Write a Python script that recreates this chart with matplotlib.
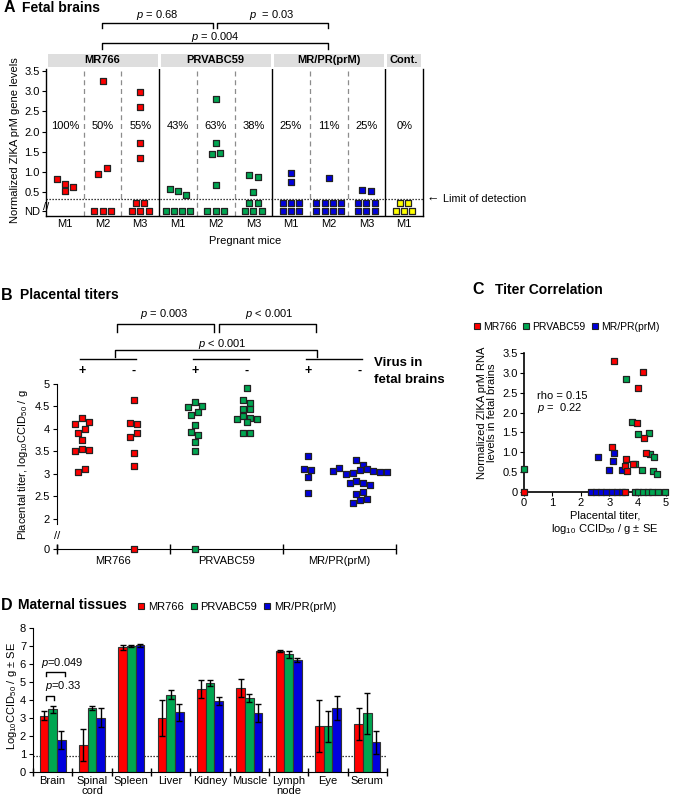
import math
import numpy as np
import matplotlib
matplotlib.use('Agg')
import matplotlib.pyplot as plt
from matplotlib.lines import Line2D
from matplotlib.patches import Rectangle
from matplotlib.transforms import blended_transform_factory

plt.rcParams['font.family'] = ['Liberation Sans', 'DejaVu Sans']
plt.rcParams['mathtext.fontset'] = 'custom'
plt.rcParams['mathtext.rm'] = 'Liberation Sans'
plt.rcParams['mathtext.it'] = 'Liberation Sans:italic'
plt.rcParams['mathtext.bf'] = 'Liberation Sans:bold'
plt.rcParams['font.size'] = 8

# ---------------- data ----------------
virus_names = ['MR766', 'PRVABC59', 'MR/PR(prM)']

# Panel A: fetal brains
a_groups = ['MR766', 'PRVABC59', 'MR/PR(prM)', 'Cont.']
a_col_group = [0, 0, 0, 1, 1, 1, 2, 2, 2, 3]
a_mice = ['M1', 'M2', 'M3', 'M1', 'M2', 'M3', 'M1', 'M2', 'M3', 'M1']
a_percent = ['100%', '50%', '55%', '43%', '63%', '38%', '25%', '11%', '25%', '0%']
a_values = [
    [0.82, 0.70, 0.64, 0.52],
    [3.25, 0.96, 1.10],
    [2.98, 2.61, 1.71, 1.35],
    [0.57, 0.53, 0.44],
    [2.81, 1.73, 1.45, 1.47, 0.68],
    [0.93, 0.88, 0.50],
    [0.97, 0.76],
    [0.85],
    [0.55, 0.54],
    [],
]
a_nd_counts = [0, 3, 5, 4, 3, 5, 6, 8, 6, 5]
a_yticks = [0.5, 1.0, 1.5, 2.0, 2.5, 3.0, 3.5]

# Panel B: placental titers (virus in fetal brains + / -)
b_groups = ['MR766', 'PRVABC59', 'MR/PR(prM)']
b_pos = {
    'MR766': [4.11, 4.235, 4.15, 3.90, 3.99, 3.76, 3.51, 3.55, 3.53, 3.04, 3.11],
    'PRVABC59': [4.49, 4.59, 4.52, 4.32, 4.37, 4.09, 3.94, 3.86, 3.72, 3.52, 0.0],
    'MR/PR(prM)': [3.39, 3.10, 3.08, 2.94, 2.57],
}
b_neg = {
    'MR766': [4.64, 4.13, 4.11, 3.83, 3.92, 3.46, 3.18, 0.0],
    'PRVABC59': [4.90, 4.64, 4.58, 4.44, 4.44, 4.21, 4.29, 4.25, 4.21, 4.15, 3.90, 3.92],
    'MR/PR(prM)': [3.32, 3.06, 3.14, 3.20, 3.01, 3.02, 3.08, 3.11, 3.06, 3.04, 3.04,
                   2.79, 2.84, 2.79, 2.76, 2.55, 2.61, 2.36, 2.42, 2.44],
}
b_yticks = [2, 2.5, 3, 3.5, 4, 4.5, 5]

# Panel C: titer correlation (placental titer, brain RNA)
c_red_x = [3.17, 4.19, 4.03, 3.97, 4.23, 3.09, 4.30, 3.60, 3.56, 3.62, 3.83, 0.0, 3.54]
c_red_y = [3.30, 3.01, 2.63, 1.73, 1.37, 1.13, 0.99, 0.83, 0.66, 0.53, 0.71, 0.0, 0.0]
c_green_x = [0.0, 3.60, 3.80, 4.00, 4.39, 4.42, 4.59, 3.92, 4.15, 4.54, 4.68,
             3.90, 4.00, 4.19, 4.35, 4.51, 4.71, 4.98]
c_green_y = [0.59, 2.85, 1.76, 1.47, 1.49, 0.95, 0.89, 0.71, 0.56, 0.52, 0.46,
             0.0, 0.0, 0.0, 0.0, 0.0, 0.0, 0.0]
c_blue_x = [2.62, 3.16, 3.15, 3.00, 3.44, 2.36, 2.54, 2.70, 2.89, 3.09, 3.27, 3.44]
c_blue_y = [0.88, 0.99, 0.78, 0.56, 0.55, 0.0, 0.0, 0.0, 0.0, 0.0, 0.0, 0.0]

# Panel D: maternal tissues
tissues = ['Brain', 'Spinal\ncord', 'Spleen', 'Liver', 'Kidney', 'Muscle', 'Lymph\nnode', 'Eye', 'Serum']
d_mr766 = [3.12, 1.50, 6.92, 3.02, 4.63, 4.67, 6.70, 2.57, 2.67]
d_mr766_se = [0.25, 0.87, 0.16, 1.00, 0.50, 0.50, 0.06, 1.45, 0.88]
d_prv = [3.48, 3.57, 7.02, 4.30, 4.94, 4.13, 6.54, 2.53, 3.26]
d_prv_se = [0.20, 0.10, 0.05, 0.24, 0.18, 0.22, 0.20, 0.85, 1.13]
d_mrpr = [1.80, 3.02, 7.04, 3.33, 3.94, 3.30, 6.22, 3.55, 1.65]
d_mrpr_se = [0.50, 0.53, 0.08, 0.47, 0.22, 0.50, 0.10, 0.67, 0.63]
d_lod = 0.89

# ---------------- styling ----------------
RED = '#FF0000'
GREEN = '#00A651'
BLUE = '#0000DD'
YELLOW = '#FFFF00'
EDGE = '#222222'
COLORS = [RED, GREEN, BLUE, YELLOW]

W, H = 676, 798
fig = plt.figure(figsize=(W / 100, H / 100), dpi=100)


def fx(px):
    return px / W


def fy(py):
    return 1 - py / H


def add_ax(left, top, right, bottom):
    return fig.add_axes([left / W, 1 - bottom / H, (right - left) / W, (bottom - top) / H])


def ftext(x, y, s, **kw):
    kw.setdefault('ha', 'center')
    kw.setdefault('va', 'center')
    return fig.text(fx(x), fy(y), s, **kw)


def bracket(x1, x2, ytop, ybot, lw=1.0):
    fig.add_artist(Line2D([fx(x1), fx(x1), fx(x2), fx(x2)],
                          [fy(ybot), fy(ytop), fy(ytop), fy(ybot)],
                          color='black', lw=lw, transform=fig.transFigure))


def hline_px(x1, x2, y, lw=1.0):
    fig.add_artist(Line2D([fx(x1), fx(x2)], [fy(y), fy(y)], color='black', lw=lw,
                          transform=fig.transFigure))


def row_slots(vals, px_per_y, thresh):
    """Group values into horizontal rows and centre each row (simple beeswarm)."""
    idx = sorted(range(len(vals)), key=lambda i: -vals[i])
    rows = []
    for i in idx:
        if rows and (vals[rows[-1][0]] - vals[i]) * px_per_y < thresh:
            rows[-1].append(i)
        else:
            rows.append([i])
    slots = [0.0] * len(vals)
    for r in rows:
        r = sorted(r)
        n = len(r)
        for k, i in enumerate(r):
            slots[i] = k - (n - 1) / 2
    return slots


MS_A, MS_B, MS_C = 21, 21, 23

# ======================= Panel A =======================
axA = add_ax(46, 69, 423, 216)
axA.set_xlim(0, 10)
axA.set_ylim(-0.09, 3.55)
ppx_A = 377 / 10
ppy_A = 147 / 3.64
ND_LEVEL, ND_TOP, LOD_A = 0.025, 0.235, 0.338
axA.spines['top'].set_visible(False)
for s in ['left', 'bottom', 'right']:
    axA.spines[s].set_linewidth(1.0)
for xb in [3, 6, 9]:
    axA.axvline(xb, color='black', lw=1.0)
for xb in [1, 2, 4, 5, 7, 8]:
    axA.axvline(xb, color='#8c8c8c', lw=0.9, ls=(0, (4, 3)))
axA.axhline(LOD_A, color='black', lw=0.9, ls=(0, (1, 1.4)))

spA = 8.3  # px spacing between squares
for i, (vals, nd) in enumerate(zip(a_values, a_nd_counts)):
    col = COLORS[a_col_group[i]]
    c = i + 0.5
    if vals:
        slots = row_slots(vals, ppy_A, 8)
        xs = [c + s * spA / ppx_A for s in slots]
        axA.scatter(xs, vals, marker='s', s=MS_A, c=col, edgecolors=EDGE, linewidths=0.9,
                    zorder=3, clip_on=False)
    nb = nd if nd <= 4 else math.ceil(nd / 2)
    for k, yv in [(nb, ND_LEVEL), (nd - nb, ND_TOP)]:
        if k <= 0:
            continue
        xs = [c + (j - (k - 1) / 2) * spA / ppx_A for j in range(k)]
        axA.scatter(xs, [yv] * k, marker='s', s=MS_A, c=col, edgecolors=EDGE, linewidths=0.9,
                    zorder=3, clip_on=False)
    axA.text(c, 2.14, a_percent[i], ha='center', va='center', fontsize=8)

axA.set_yticks([ND_LEVEL] + a_yticks)
axA.set_yticklabels(['ND'] + ['%.1f' % v for v in a_yticks])
axA.set_xticks([i + 0.5 for i in range(10)])
axA.set_xticklabels(a_mice)
axA.tick_params(axis='y', length=3, width=0.8, pad=1.5, labelsize=8)
axA.tick_params(axis='x', length=0, pad=2.5, labelsize=8)
axA.text(0, 0.14, '//', ha='center', va='center', fontsize=8, transform=axA.transData,
         clip_on=False)

# strip headers
trA = blended_transform_factory(axA.transData, axA.transAxes)
spans = [(0, 3), (3, 6), (6, 9), (9, 10)]
for (a0, a1), name in zip(spans, a_groups):
    axA.add_patch(Rectangle((a0 + 0.04, 1.014), (a1 - a0) - 0.08, 0.088, transform=trA,
                            facecolor='#DEDEDE', edgecolor='none', clip_on=False))
    axA.text((a0 + a1) / 2, 1.058, name, transform=trA, ha='center', va='center',
             fontsize=8, fontweight='bold')

ftext(15, 140, 'Normalized ZIKA prM gene levels', rotation=90, fontsize=8)
ftext(245, 241, 'Pregnant mice', fontsize=8)
ftext(427, 199, '\u2190', ha='left', fontsize=9)
ftext(443, 199, 'Limit of detection', ha='left', fontsize=7.8)

bracket(102, 213, 23, 28)
bracket(217, 328, 23, 28)
bracket(102, 328, 43, 49)
ftext(157, 15.5, '$p$ = 0.68', fontsize=8)
ftext(272, 15.5, '$p$  = 0.03', fontsize=8)
ftext(215, 36.5, '$p$ = 0.004', fontsize=8)

ftext(4, 8, 'A', ha='left', fontsize=11.5, fontweight='bold')
ftext(22, 8, 'Fetal brains', ha='left', fontsize=10, fontweight='bold')

# ======================= Panel B =======================
axB = add_ax(57, 383, 396, 549)
ZERO_B = 2 - 30 / 45
axB.set_xlim(0, 3)
axB.set_ylim(ZERO_B, 5.02)
ppx_B = 339 / 3
ppy_B = 166 / (5.02 - ZERO_B)
spB = 6.8
for s in ['top', 'right']:
    axB.spines[s].set_visible(False)
axB.spines['left'].set_bounds(1.88, 5.0)
axB.plot([0, 0], [ZERO_B, ZERO_B + 0.09], color='black', lw=1.0, clip_on=False)
axB.text(0, 1.63, '//', ha='center', va='center', fontsize=8, clip_on=False)

OFF_POS, OFF_NEG = 0.22, 0.68
for g, name in enumerate(b_groups):
    for off, vals in [(OFF_POS, b_pos[name]), (OFF_NEG, b_neg[name])]:
        disp = [v if v > 0 else ZERO_B for v in vals]
        slots = row_slots(disp, ppy_B, 6)
        xs = [g + off + s * spB / ppx_B for s in slots]
        axB.scatter(xs, disp, marker='s', s=MS_B, c=COLORS[g], edgecolors=EDGE,
                    linewidths=0.9, zorder=3, clip_on=False)

axB.set_yticks([ZERO_B] + b_yticks)
axB.set_yticklabels(['0'] + ['%g' % v for v in b_yticks])
axB.tick_params(axis='y', length=3, width=0.8, pad=2, labelsize=8)
axB.set_xticks([0, 1, 2, 3])
axB.set_xticklabels([])
axB.set_xticks([0.5, 1.5, 2.5], minor=True)
axB.set_xticklabels(b_groups, minor=True)
axB.tick_params(axis='x', which='major', direction='inout', length=7, width=1.0)
axB.tick_params(axis='x', which='minor', length=0, pad=5, labelsize=8)

ftext(23, 465, 'Placental titer, log$_{10}$CCID$_{50}$ / g', rotation=90, fontsize=8)

bracket(117, 214, 324, 332)
bracket(219, 316, 324, 332)
bracket(115, 317, 350, 357)
ftext(164, 314, '$p$ = 0.003', fontsize=8)
ftext(269, 314, '$p$ < 0.001', fontsize=8)
ftext(222, 344, '$p$ < 0.001', fontsize=8)
trB = blended_transform_factory(axB.transData, fig.transFigure)
for g in range(3):
    x1 = axB.transData.transform((g + OFF_POS, 0))[0]
    x2 = axB.transData.transform((g + OFF_NEG, 0))[0]
    hline_px(x1 - 2, x2 + 2, 359)
    axB.text(g + OFF_POS, fy(371), '+', transform=trB, ha='center', va='center',
             fontsize=9, fontweight='bold')
    axB.text(g + OFF_NEG, fy(371), '-', transform=trB, ha='center', va='center',
             fontsize=9, fontweight='bold')
ftext(374, 363, 'Virus in', ha='left', fontsize=9.5, fontweight='bold')
ftext(374, 380, 'fetal brains', ha='left', fontsize=9.5, fontweight='bold')

ftext(1, 295, 'B', ha='left', fontsize=11.5, fontweight='bold')
ftext(20, 295, 'Placental titers', ha='left', fontsize=10, fontweight='bold')

# ======================= Panel C =======================
axC = add_ax(524, 353, 666, 492)
axC.set_xlim(0, 5)
axC.set_ylim(0, 3.5)
for s in ['top', 'right']:
    axC.spines[s].set_visible(False)
for s in ['left', 'bottom']:
    axC.spines[s].set_linewidth(1.2)
for xs, ys, col in [(c_blue_x, c_blue_y, BLUE), (c_green_x, c_green_y, GREEN),
                    (c_red_x, c_red_y, RED)]:
    axC.scatter(xs, ys, marker='s', s=MS_C, c=col, edgecolors=EDGE, linewidths=0.9,
                zorder=3, clip_on=False)
axC.set_xticks([0, 1, 2, 3, 4, 5])
axC.set_yticks([0, 0.5, 1.0, 1.5, 2.0, 2.5, 3.0, 3.5])
axC.set_yticklabels(['0', '0.5', '1.0', '1.5', '2.0', '2.5', '3.0', '3.5'])
axC.tick_params(length=3, width=0.8, pad=1.5, labelsize=8)
ftext(537, 396, 'rho = 0.15', ha='left', fontsize=8)
ftext(537, 408, '$p$ =  0.22', ha='left', fontsize=8)
ftext(487, 413, 'Normalized ZIKA prM RNA\nlevels in fetal brains', rotation=90,
      fontsize=8, linespacing=1.1)
ftext(605, 523, 'Placental titer,\nlog$_{10}$ CCID$_{50}$ / g \u00b1 SE', fontsize=8,
      linespacing=1.15)

handles = [Line2D([], [], marker='s', ls='none', markersize=5, markerfacecolor=c,
                  markeredgecolor=EDGE, markeredgewidth=0.8) for c in COLORS[:3]]
fig.legend(handles, virus_names, loc='center left', bbox_to_anchor=(fx(474), fy(327)),
           ncol=3, frameon=False, fontsize=7.5, handlelength=0.6, handletextpad=0.3,
           columnspacing=0.6, borderpad=0, borderaxespad=0)

ftext(472, 290, 'C', ha='left', fontsize=11.5, fontweight='bold')
ftext(495, 290, 'Titer Correlation', ha='left', fontsize=10, fontweight='bold')

# ======================= Panel D =======================
axD = add_ax(33, 628, 387, 772)
axD.set_xlim(0, 9)
axD.set_ylim(0, 8)
for s in ['top', 'right']:
    axD.spines[s].set_visible(False)
xD = np.arange(len(tissues)) + 0.5
bw = 0.22
for k, (vals, err, col) in enumerate([(d_mr766, d_mr766_se, RED),
                                      (d_prv, d_prv_se, GREEN),
                                      (d_mrpr, d_mrpr_se, BLUE)]):
    axD.bar(xD + (k - 1) * bw, vals, width=bw, yerr=err, color=col, edgecolor='#333333',
            linewidth=0.8, capsize=2.2, zorder=2,
            error_kw=dict(elinewidth=1.0, capthick=1.0, ecolor='black', zorder=4))
axD.axhline(d_lod, color='black', lw=0.9, ls=(0, (1, 1.4)), zorder=1)
axD.set_yticks(range(0, 9))
axD.tick_params(axis='y', length=3, width=0.8, pad=2, labelsize=8)
axD.set_xticks(range(0, 10))
axD.set_xticklabels([])
axD.set_xticks(xD, minor=True)
axD.set_xticklabels(tissues, minor=True)
axD.tick_params(axis='x', which='major', direction='inout', length=6, width=1.0)
axD.tick_params(axis='x', which='minor', length=0, pad=3, labelsize=8)
for tl in axD.get_xticklabels(minor=True):
    tl.set_linespacing(1.0)

ftext(12, 696, 'Log$_{10}$CCID$_{50}$ / g \u00b1 SE', rotation=90, fontsize=8)
bracket(46, 65, 671.5, 675.5)
bracket(46, 54, 695.5, 699.5)
ftext(41, 663, '$p$=0.049', ha='left', fontsize=8)
ftext(45, 686, '$p$=0.33', ha='left', fontsize=8)

fig.legend(handles, virus_names, loc='center left', bbox_to_anchor=(fx(138), fy(607)),
           ncol=3, frameon=False, fontsize=8, handlelength=0.6, handletextpad=0.3,
           columnspacing=0.6, borderpad=0, borderaxespad=0)
ftext(1, 605, 'D', ha='left', fontsize=11.5, fontweight='bold')
ftext(18, 605, 'Maternal tissues', ha='left', fontsize=10, fontweight='bold')

fig.savefig('out.png', dpi=100)
